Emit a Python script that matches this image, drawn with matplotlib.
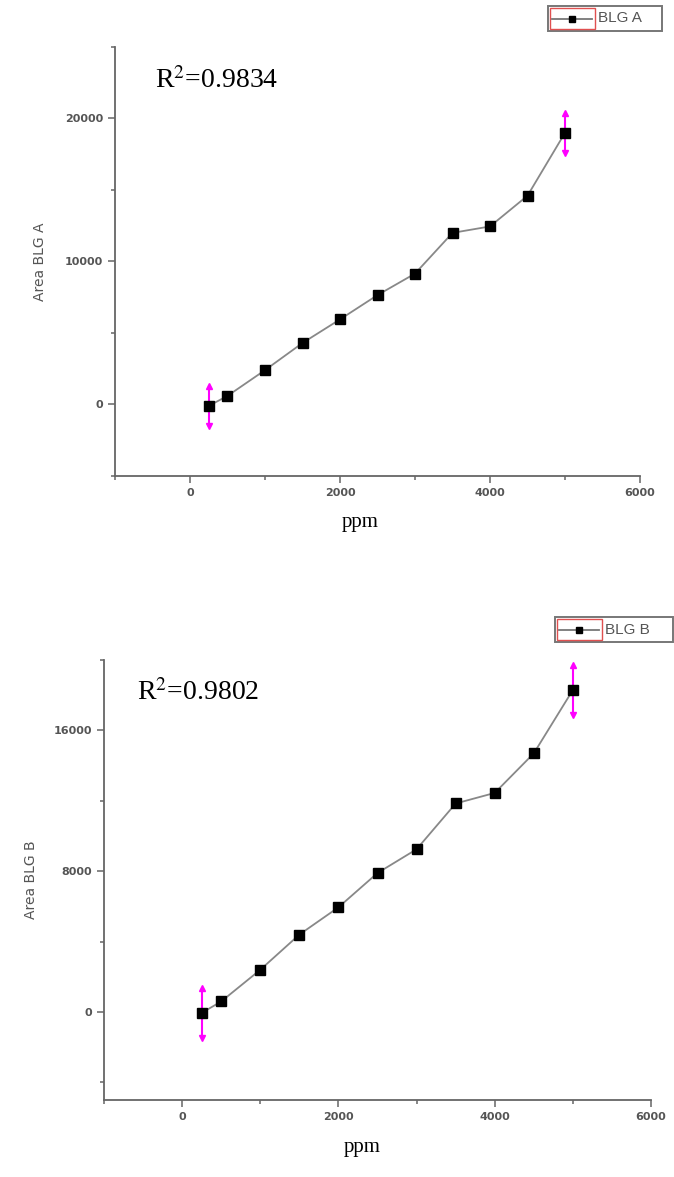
import matplotlib.pyplot as plt
from matplotlib.patches import Rectangle

ppm = [250, 500, 1000, 1500, 2000, 2500, 3000, 3500, 4000, 4500, 5000]
area_a = [-100, 600, 2400, 4300, 5950, 7650, 9150, 12000, 12450, 14600, 19000]
area_b = [-50, 600, 2400, 4400, 5950, 7900, 9250, 11850, 12450, 14700, 18300]

panels = [
    dict(y=area_a, name="BLG A", r2="0.9834", rect=[0.1706, 0.5956, 0.779, 0.3645],
         ylim=(-5000, 25000), yticks=[0, 10000, 20000], ystep=5000, ymin_minor=-5000,
         err=1400, r2pos=(155, 88), xlab=(360, 527), leg=(548, 6, 662, 31),
         ylab=-0.13),
    dict(y=area_b, name="BLG B", r2="0.9802", rect=[0.1543, 0.0654, 0.8116, 0.3738],
         ylim=(-5000, 20000), yticks=[0, 8000, 16000], ystep=4000, ymin_minor=-4000,
         err=1400, r2pos=(137, 700), xlab=(362, 1152), leg=(555, 617, 673, 642),
         ylab=-0.12),
]

W, H = 674, 1177
fig = plt.figure(figsize=(W / 100, H / 100), dpi=100)
gray = "#555555"
spine = "#666666"

for p in panels:
    ax = fig.add_axes(p["rect"])
    ax.plot(ppm, p["y"], color="#888888", lw=1.3, marker="s", ms=6.5,
            mfc="black", mec="black", zorder=3)
    # magenta double arrows on the first and last points
    for i in (0, -1):
        ax.plot([ppm[i], ppm[i]], [p["y"][i] - p["err"], p["y"][i] + p["err"]],
                color="magenta", lw=1.5, zorder=2)
        ax.plot(ppm[i], p["y"][i] + p["err"], marker="^", color="magenta", ms=4.5, zorder=2)
        ax.plot(ppm[i], p["y"][i] - p["err"], marker="v", color="magenta", ms=4.5, zorder=2)
    ax.set_xlim(-1000, 6000)
    ax.set_ylim(*p["ylim"])
    ax.set_xticks([0, 2000, 4000, 6000])
    ax.set_xticks(range(-1000, 6001, 1000), minor=True)
    ax.set_yticks(p["yticks"])
    ax.set_yticks(range(p["ymin_minor"], p["ylim"][1] + 1, p["ystep"]), minor=True)
    for s in ("top", "right"):
        ax.spines[s].set_visible(False)
    for s in ("left", "bottom"):
        ax.spines[s].set_color(spine)
        ax.spines[s].set_linewidth(1.3)
    ax.tick_params(which="major", length=5, width=1.1, color=spine,
                   labelsize=8, labelcolor=gray)
    ax.tick_params(which="minor", length=3, width=1.1, color=spine)
    for lab in ax.get_xticklabels() + ax.get_yticklabels():
        lab.set_fontweight("semibold")
    ax.set_ylabel("Area " + p["name"], fontsize=10, color=gray)
    ax.yaxis.set_label_coords(p["ylab"], 0.5)

    fig.text(p["r2pos"][0] / W, 1 - p["r2pos"][1] / H, "R$^2$=" + p["r2"],
             fontsize=20, family="Liberation Serif", math_fontfamily="stix")
    fig.text(p["xlab"][0] / W, 1 - p["xlab"][1] / H, "ppm", fontsize=15,
             family="Liberation Serif", ha="center")

    # Origin-style legend box
    x0, y0, x1, y1 = p["leg"]
    fig.patches.append(Rectangle((x0 / W, 1 - y1 / H), (x1 - x0) / W, (y1 - y0) / H,
                                 transform=fig.transFigure, fill=False,
                                 ec="#777777", lw=1.4))
    fig.patches.append(Rectangle((x0 / W + 0.003, 1 - y1 / H + 0.002), 0.066,
                                 (y1 - y0) / H - 0.004, transform=fig.transFigure,
                                 fill=False, ec="#e05050", lw=1.0))
    ym = 1 - (y0 + y1) / 2 / H
    fig.lines.append(plt.Line2D([x0 / W + 0.006, x0 / W + 0.066], [ym, ym],
                                transform=fig.transFigure, color="#777777", lw=1.3))
    fig.lines.append(plt.Line2D([x0 / W + 0.036], [ym], transform=fig.transFigure,
                                marker="s", ms=4.5, color="black"))
    fig.text(x0 / W + 0.074, ym, p["name"], fontsize=11, color=gray, va="center",
             family="Liberation Sans")

fig.savefig("out.png", dpi=100)
